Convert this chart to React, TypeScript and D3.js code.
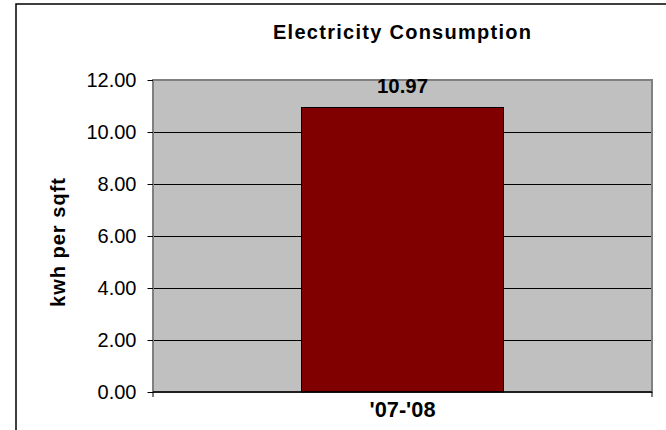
import React from "react";
import * as d3 from "d3";

const categories: string[] = ["'07-'08"];
const values: number[] = [10.97];
const yTicks: number[] = [0, 2, 4, 6, 8, 10, 12];
const title = "Electricity Consumption";
const yLabel = "kwh per sqft";

const W = 666;
const H = 430;
const FONT = "'Liberation Sans', Arial, sans-serif";

export default function App() {
  const plot = { left: 153, right: 652, top: 80, bottom: 392 };
  const y = d3.scaleLinear().domain([0, 12]).range([plot.bottom, plot.top]);
  const x = d3
    .scaleBand<string>()
    .domain(categories)
    .range([plot.left, plot.right])
    .paddingInner(0)
    .paddingOuter(0.735);
  const fmt = d3.format(".2f");
  const crisp = (v: number) => Math.round(v) + 0.5;

  return (
    <svg
      width={W}
      height={H}
      style={{ position: "absolute", left: 0, top: 0, background: "#fff" }}
      fontFamily={FONT}
    >
      {/* outer chart border */}
      <rect x={16} y={4} width={700} height={500} fill="#fff" stroke="#000" strokeWidth={1.5} />

      {/* title */}
      <text
        x={402}
        y={38.5}
        textAnchor="middle"
        fontSize={20}
        fontWeight="bold"
        textLength={258}
        lengthAdjust="spacing"
      >
        {title}
      </text>

      {/* plot area */}
      <rect
        x={plot.left}
        y={plot.top}
        width={plot.right - plot.left}
        height={plot.bottom - plot.top}
        fill="#C0C0C0"
      />
      {/* gridlines */}
      {yTicks
        .filter((t) => t > 0 && t < 12)
        .map((t) => (
          <line
            key={"g" + t}
            x1={plot.left}
            x2={plot.right}
            y1={crisp(y(t))}
            y2={crisp(y(t))}
            stroke="#000"
            strokeWidth={1}
          />
        ))}
      {/* plot border */}
      <rect
        x={plot.left}
        y={plot.top}
        width={plot.right - plot.left}
        height={plot.bottom - plot.top}
        fill="none"
        stroke="#808080"
        strokeWidth={2}
      />

      {/* bars */}
      {categories.map((c, i) => (
        <rect
          key={c}
          x={Math.round(x(c) as number) + 0.5}
          y={crisp(y(values[i]))}
          width={Math.round(x.bandwidth())}
          height={Math.round(y(0)) - crisp(y(values[i]))}
          fill="#800000"
          stroke="#000"
          strokeWidth={1}
        />
      ))}

      {/* value labels */}
      {categories.map((c, i) => (
        <text
          key={"v" + c}
          x={(x(c) as number) + x.bandwidth() / 2}
          y={y(values[i]) - 13.5}
          textAnchor="middle"
          fontSize={21}
          fontWeight="bold"
          textLength={51}
          lengthAdjust="spacingAndGlyphs"
        >
          {fmt(values[i])}
        </text>
      ))}

      {/* y axis ticks and labels */}
      {yTicks.map((t) => (
        <g key={"t" + t}>
          <line x1={147.5} x2={plot.left} y1={crisp(y(t))} y2={crisp(y(t))} stroke="#000" strokeWidth={1} />
          <text
            x={136.5}
            y={y(t)}
            dy="0.36em"
            textAnchor="end"
            fontSize={20}
          >
            {fmt(t)}
          </text>
        </g>
      ))}

      {/* x axis */}
      <line x1={plot.left} x2={plot.right} y1={plot.bottom} y2={plot.bottom} stroke="#000" strokeWidth={1.5} />
      {[plot.left, plot.right].map((px, i) => (
        <line key={"xt" + i} x1={px} x2={px} y1={plot.bottom} y2={plot.bottom + 5} stroke="#000" strokeWidth={1} />
      ))}
      {categories.map((c) => (
        <text
          key={"c" + c}
          x={(x(c) as number) + x.bandwidth() / 2}
          y={416.5}
          textAnchor="middle"
          fontSize={22}
          fontWeight="bold"
          textLength={66}
          lengthAdjust="spacingAndGlyphs"
        >
          {c}
        </text>
      ))}

      {/* y axis label */}
      <text
        transform={`translate(65, 242.5) rotate(-90)`}
        textAnchor="middle"
        fontSize={20}
        fontWeight="bold"
        textLength={129}
        lengthAdjust="spacing"
      >
        {yLabel}
      </text>
    </svg>
  );
}
